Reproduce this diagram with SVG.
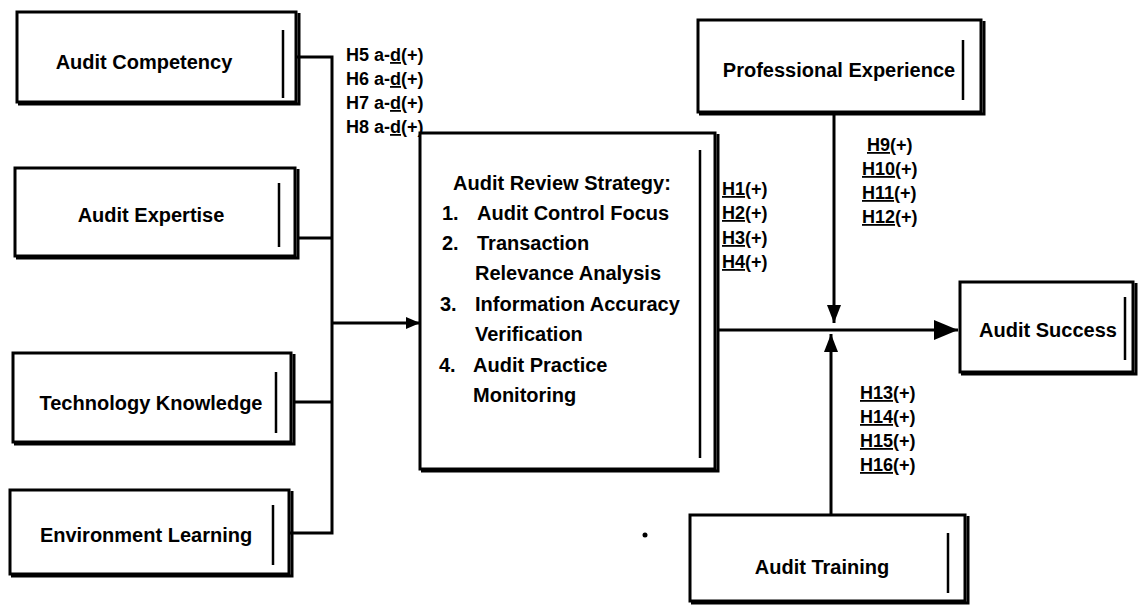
<svg xmlns="http://www.w3.org/2000/svg" width="1139" height="605" viewBox="0 0 1139 605">
<style>
.box{fill:#fff;stroke:#000;stroke-width:3}
.shd{fill:none;stroke:#000;stroke-width:3}
.inner{stroke:#000;stroke-width:2.5}
.t{font-family:"Liberation Sans",Arial,sans-serif;font-weight:bold;font-size:20px;fill:#000}
.c{text-anchor:middle}
.h{font-family:"Liberation Sans",Arial,sans-serif;font-weight:bold;font-size:18px;fill:#000}
.u{text-decoration:underline}
.conn{fill:none;stroke:#000;stroke-width:3}
</style>
<defs>
<marker id="big" markerUnits="userSpaceOnUse" markerWidth="26" markerHeight="22" refX="24" refY="11" orient="auto"><path d="M0,1 L24,11 L0,21 Z" fill="#000"/></marker>
<marker id="mid" markerUnits="userSpaceOnUse" markerWidth="20" markerHeight="16" refX="18" refY="8" orient="auto"><path d="M0,1 L18,8 L0,15 Z" fill="#000"/></marker>
<marker id="sml" markerUnits="userSpaceOnUse" markerWidth="16" markerHeight="14" refX="14" refY="7" orient="auto"><path d="M0,1 L14,7 L0,13 Z" fill="#000"/></marker>
</defs>
<rect width="1139" height="605" fill="#fff"/>

<g id="connectors">
<path class="conn" d="M297,57 H332 V533 H290"/>
<path class="conn" d="M297,238 H332"/>
<path class="conn" d="M293,402 H332"/>
<path class="conn" d="M332,323 H420" marker-end="url(#sml)"/>
<path class="conn" d="M717,330 H958" marker-end="url(#big)"/>
<path class="conn" d="M834,113 V323" marker-end="url(#mid)"/>
<path class="conn" d="M831,515 V334" marker-end="url(#mid)"/>
</g>

<g id="labels">
<text class="h" x="346" y="61">H5 a-<tspan class="u">d</tspan>(+)</text>
<text class="h" x="346" y="85">H6 a-<tspan class="u">d</tspan>(+)</text>
<text class="h" x="346" y="109">H7 a-<tspan class="u">d</tspan>(+)</text>
<text class="h" x="346" y="133">H8 a-<tspan class="u">d</tspan>(+)</text>
<text class="h" x="722" y="195"><tspan class="u">H1</tspan>(+)</text>
<text class="h" x="722" y="219"><tspan class="u">H2</tspan>(+)</text>
<text class="h" x="722" y="244"><tspan class="u">H3</tspan>(+)</text>
<text class="h" x="722" y="268"><tspan class="u">H4</tspan>(+)</text>
<text class="h" x="867" y="151"><tspan class="u">H9</tspan>(+)</text>
<text class="h" x="862" y="175"><tspan class="u">H10</tspan>(+)</text>
<text class="h" x="862" y="199"><tspan class="u">H11</tspan>(+)</text>
<text class="h" x="862" y="223"><tspan class="u">H12</tspan>(+)</text>
<text class="h" x="860" y="399"><tspan class="u">H13</tspan>(+)</text>
<text class="h" x="860" y="423"><tspan class="u">H14</tspan>(+)</text>
<text class="h" x="860" y="447"><tspan class="u">H15</tspan>(+)</text>
<text class="h" x="860" y="471"><tspan class="u">H16</tspan>(+)</text>
</g>

<g id="audit-competency">
<rect class="box" x="17" y="12" width="279" height="90"/>
<path class="shd" d="M299,13 V104 H18"/>
<line class="inner" x1="283" y1="30" x2="283" y2="98"/>
<text class="t c" x="144" y="69">Audit Competency</text>
</g>

<g id="audit-expertise">
<rect class="box" x="15" y="168" width="280" height="88"/>
<path class="shd" d="M298,169 V258 H16"/>
<line class="inner" x1="279" y1="183" x2="279" y2="247"/>
<text class="t c" x="151" y="222">Audit Expertise</text>
</g>

<g id="technology-knowledge">
<rect class="box" x="13" y="353" width="278" height="89"/>
<path class="shd" d="M294,354 V444 H14"/>
<line class="inner" x1="276" y1="372" x2="276" y2="433"/>
<text class="t c" x="151" y="410">Technology Knowledge</text>
</g>

<g id="environment-learning">
<rect class="box" x="10" y="490" width="279" height="84"/>
<path class="shd" d="M292,491 V576 H11"/>
<line class="inner" x1="273" y1="505" x2="273" y2="565"/>
<text class="t c" x="146" y="542">Environment Learning</text>
</g>

<g id="audit-review-strategy">
<rect class="box" x="420" y="133" width="295" height="336"/>
<path class="shd" d="M718,134 V471 H421"/>
<line class="inner" x1="700" y1="150" x2="700" y2="458"/>
<text class="t" x="453" y="190">Audit Review Strategy:</text>
<text class="t" x="442" y="220">1.</text><text class="t" x="477" y="220">Audit Control Focus</text>
<text class="t" x="442" y="250">2.</text><text class="t" x="477" y="250">Transaction</text>
<text class="t" x="475" y="280">Relevance Analysis</text>
<text class="t" x="440" y="311">3.</text><text class="t" x="475" y="311">Information Accuracy</text>
<text class="t" x="475" y="341">Verification</text>
<text class="t" x="439" y="372">4.</text><text class="t" x="473" y="372">Audit Practice</text>
<text class="t" x="473" y="402">Monitoring</text>
</g>

<g id="professional-experience">
<rect class="box" x="698" y="20" width="283" height="92"/>
<path class="shd" d="M984,21 V114 H699"/>
<line class="inner" x1="963" y1="40" x2="963" y2="100"/>
<text class="t c" x="839" y="77">Professional Experience</text>
</g>

<g id="audit-success">
<rect class="box" x="960" y="282" width="173" height="90"/>
<path class="shd" d="M1136,283 V374 H961"/>
<line class="inner" x1="1125" y1="297" x2="1125" y2="360"/>
<text class="t c" x="1048" y="337">Audit Success</text>
</g>

<g id="audit-training">
<rect class="box" x="690" y="515" width="275" height="86"/>
<path class="shd" d="M968,516 V603 H691"/>
<line class="inner" x1="948" y1="533" x2="948" y2="593"/>
<text class="t c" x="822" y="574">Audit Training</text>
</g>

<circle cx="645" cy="535" r="2.5" fill="#000"/>
</svg>
